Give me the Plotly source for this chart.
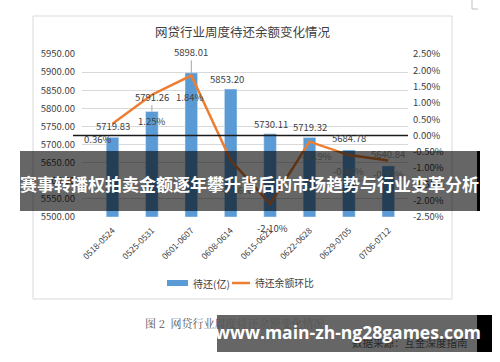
import plotly.graph_objects as go

categories = ["0518-0524", "0525-0531", "0601-0607", "0608-0614",
              "0615-0621", "0622-0628", "0629-0705", "0706-0712"]
balance = [5719.83, 5791.26, 5898.01, 5853.20, 5730.11, 5719.32, 5684.78, 5640.84]
change_pct = [0.36, 1.25, 1.84, -0.76, -2.10, -0.19, -0.60, -0.77]
left_ticks = [5500, 5550, 5600, 5650, 5700, 5750, 5800, 5850, 5900, 5950]
right_ticks = [-2.5, -2.0, -1.5, -1.0, -0.5, 0.0, 0.5, 1.0, 1.5, 2.0, 2.5]

series_names = ["待还(亿)", "待还余额环比"]
title_text = "网贷行业周度待还余额变化情况"
caption_text = "图 2  网贷行业周度待还余额变化情况"
source_text = "数据来源：互金深度指南"
banner_text = "赛事转播权拍卖金额逐年攀升背后的市场趋势与行业变革分析"
url_text = "www.main-zh-ng28games.com"

# plot area in pixels
L, R, T, B = 82, 408, 54, 217
W, H = 500, 362
def px(x):
    return (x - L) / (R - L)
def py(y):
    return (B - y) / (B - T)

BLUE = "#5b9bd5"
ORANGE = "#ed7d31"
TXT = "#404040"
FONT = "Noto Sans CJK SC"

fig = go.Figure()
fig.add_trace(go.Bar(x=categories, y=[v - 5500 for v in balance], base=5500,
                     name=series_names[0], marker_color=BLUE, width=0.32,
                     hoverinfo="skip"))
fig.add_trace(go.Scatter(x=categories, y=change_pct, name=series_names[1],
                         mode="lines", yaxis="y2", hoverinfo="skip",
                         line=dict(color=ORANGE, width=2.5)))

annotations = []
# bar value labels (offsets in px)
bar_off = [(0, -11), (0, -13), (0, -19), (-4, -10), (1, -10), (0, -11), (0, -12), (0, -12)]
leader = [False, True, True, False, False, False, False, False]
for c, v, (dx, dy), ld in zip(categories, balance, bar_off, leader):
    if ld:
        annotations.append(dict(x=c, y=v, xref="x", yref="y", text=f"{v:.2f}",
                                showarrow=True, arrowhead=0, arrowwidth=1,
                                arrowcolor="#a6a6a6", ax=dx, ay=dy - 2,
                                standoff=0,
                                font=dict(size=9.5, color=TXT, family=FONT)))
    else:
        annotations.append(dict(x=c, y=v, xref="x", yref="y", text=f"{v:.2f}",
                                showarrow=False, xshift=dx, yshift=-dy,
                                xanchor="center", yanchor="middle",
                                font=dict(size=9.5, color=TXT, family=FONT)))
# line labels
line_off = [(-15, 15), (0, 26), (-2, 21), (6, 30), (2, 24), (7, 14), (0, 16), (0, 13)]
for c, v, (dx, dy) in zip(categories, change_pct, line_off):
    annotations.append(dict(x=c, y=v, xref="x", yref="y2", text=f"{v:.2f}%",
                            showarrow=False, xshift=dx, yshift=-dy,
                            xanchor="center", yanchor="middle",
                            font=dict(size=9.5, color=TXT, family=FONT)))

def ptext(x, y, text, size, color, family=FONT, xanchor="center", weight="normal"):
    return dict(x=px(x), y=py(y), xref="paper", yref="paper", text=text,
                showarrow=False, xanchor=xanchor, yanchor="middle",
                font=dict(size=size, color=color, family=family, weight=weight))

annotations.append(ptext(243, 32, title_text, 12.5, TXT))
# legend texts
annotations.append(ptext(191, 283, series_names[0], 10, TXT, xanchor="left"))
annotations.append(ptext(253, 283, series_names[1], 9.8, TXT, xanchor="left"))
annotations.append(ptext(143, 323, caption_text, 11, "#555555",
                         family="Noto Serif CJK SC, " + FONT, xanchor="left"))
annotations.append(ptext(470, 342, source_text, 10.5, "#2a2a2a", xanchor="right"))
annotations.append(ptext(249, 183, banner_text, 17, "white", weight="bold"))
annotations.append(ptext(348, 332, url_text, 17.5, "white",
                         family="Open Sans, Liberation Sans", weight="bold"))

shapes = [
    # chart panel border
    dict(type="rect", xref="paper", yref="paper", x0=px(33), x1=px(452),
         y0=py(299), y1=py(16), line=dict(color="#d9d9d9", width=1), layer="below"),
    # page corner mark
    dict(type="path", xref="paper", yref="paper",
         path=f"M {px(472)} {py(0)} L {px(472)} {py(9)} L {px(478)} {py(9)}",
         line=dict(color="#bfbfbf", width=1)),
    # legend keys
    dict(type="rect", xref="paper", yref="paper", x0=px(167), x1=px(188),
         y0=py(286), y1=py(280), fillcolor=BLUE, line=dict(width=0)),
    dict(type="line", xref="paper", yref="paper", x0=px(232), x1=px(250),
         y0=py(283), y1=py(283), line=dict(color=ORANGE, width=2.5)),
    # zero line of right axis
    dict(type="line", xref="paper", yref="y2", x0=px(73), x1=1, y0=0, y1=0,
         line=dict(color="#1a1a1a", width=1.5), layer="above"),
    # overlay banners
    dict(type="rect", xref="paper", yref="paper", x0=px(20), x1=px(477),
         y0=py(211), y1=py(151), fillcolor="rgba(0,0,0,0.6)", line=dict(width=0),
         layer="above"),
    dict(type="rect", xref="paper", yref="paper", x0=px(477), x1=px(480),
         y0=py(211), y1=py(151), fillcolor="black", line=dict(width=0), layer="above"),
    dict(type="rect", xref="paper", yref="paper", x0=px(217), x1=px(477),
         y0=py(352), y1=py(315), fillcolor="rgba(0,0,0,0.6)", line=dict(width=0),
         layer="above"),
    dict(type="rect", xref="paper", yref="paper", x0=px(477), x1=px(492),
         y0=py(352), y1=py(315), fillcolor="black", line=dict(width=0), layer="above"),
]

fig.update_layout(
    width=W, height=H,
    margin=dict(l=L, r=W - R, t=T, b=H - B, autoexpand=False),
    paper_bgcolor="white", plot_bgcolor="white",
    font=dict(family=FONT, color=TXT),
    showlegend=False,
    hovermode=False,
    xaxis=dict(type="category", tickangle=-45, showgrid=False, showline=False,
               ticks="", tickfont=dict(size=8.5, color=TXT, family=FONT),
               ticklabelstandoff=6),
    yaxis=dict(range=[5500, 5950], tickvals=left_ticks,
               ticktext=[f"{t:.2f}" for t in left_ticks],
               showgrid=True, gridcolor="#d9d9d9", gridwidth=1, zeroline=False,
               showline=False, ticks="", ticklabelstandoff=6,
               tickfont=dict(size=9.5, color=TXT, family=FONT)),
    yaxis2=dict(range=[-2.5, 2.5], tickvals=right_ticks,
                ticktext=[f"{t:.2f}%" for t in right_ticks],
                overlaying="y", side="right", showgrid=False, zeroline=False,
                showline=False, ticks="", ticklabelstandoff=4,
                tickfont=dict(size=9.5, color=TXT, family=FONT)),
    annotations=annotations,
    shapes=shapes,
    bargap=0.68,
)

fig.write_html("out.html", config={"displayModeBar": False},
               post_script="document.body.style.margin='0px';")
